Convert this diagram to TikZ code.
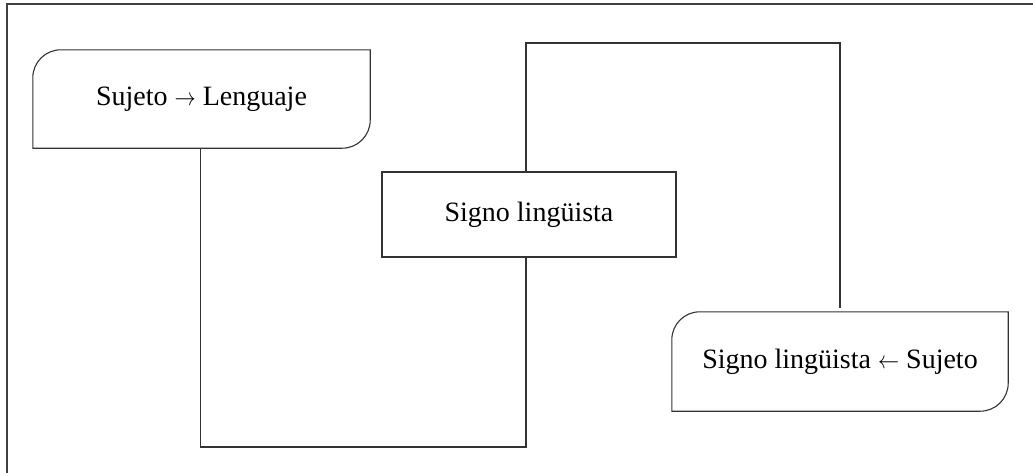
\documentclass[tikz,border=0pt]{standalone}
\usepackage{fontspec}
\usepackage{graphicx}
\setmainfont{Liberation Serif}
\newcommand{\rarr}{\scalebox{0.85}[1]{$\rightarrow$}}
\newcommand{\larr}{\scalebox{0.85}[1]{$\leftarrow$}}
\begin{document}
\begin{tikzpicture}[x=1pt,y=-1pt,
  line/.style={draw=black!80,line width=1.1pt},
  frame/.style={draw=black!75,line width=1.5pt},
  txt/.style={inner sep=0pt,text=black,font=\fontsize{28}{32}\selectfont},
  plainbox/.style={txt,draw=black!80,line width=1.1pt}]
\useasboundingbox (0,0) rectangle (1033,472);
\draw[frame] (7,480) -- (7,4) -- (1045,4);
% nodes
\node[txt,minimum width=337pt,minimum height=98pt] (b1) at (201.5,99) {Sujeto \rarr{} Lenguaje};
\node[plainbox,minimum width=294pt,minimum height=85pt] (b2) at (529,214.5) {Signo lingüista};
\node[txt,minimum width=336pt,minimum height=99pt] (b3) at (840,361.5) {Signo lingüista \larr{} Sujeto};
% rounded outlines (top-left and bottom-right corners)
\draw[line] (b1.south west) -- ([yshift=-28pt]b1.north west) arc[start angle=180,end angle=270,radius=28]
  -- (b1.north east) -- ([yshift=28pt]b1.south east) arc[start angle=0,end angle=90,radius=28] -- cycle;
\draw[line] (b3.south west) -- ([yshift=-28pt]b3.north west) arc[start angle=180,end angle=270,radius=28]
  -- (b3.north east) -- ([yshift=28pt]b3.south east) arc[start angle=0,end angle=90,radius=28] -- cycle;
% connectors
\coordinate (k1) at (526,447);
\coordinate (k2) at (526,43);
\coordinate (k3) at (840,43);
\coordinate (k4) at (840,308);
\draw[line] (b1.south -| 200.5,0) -- (200.5,447) -- (k1) -- (k1 |- b2.south);
\draw[line] (k2 |- b2.north) -- (k2) -- (k3) -- (k4);
\end{tikzpicture}
\end{document}
